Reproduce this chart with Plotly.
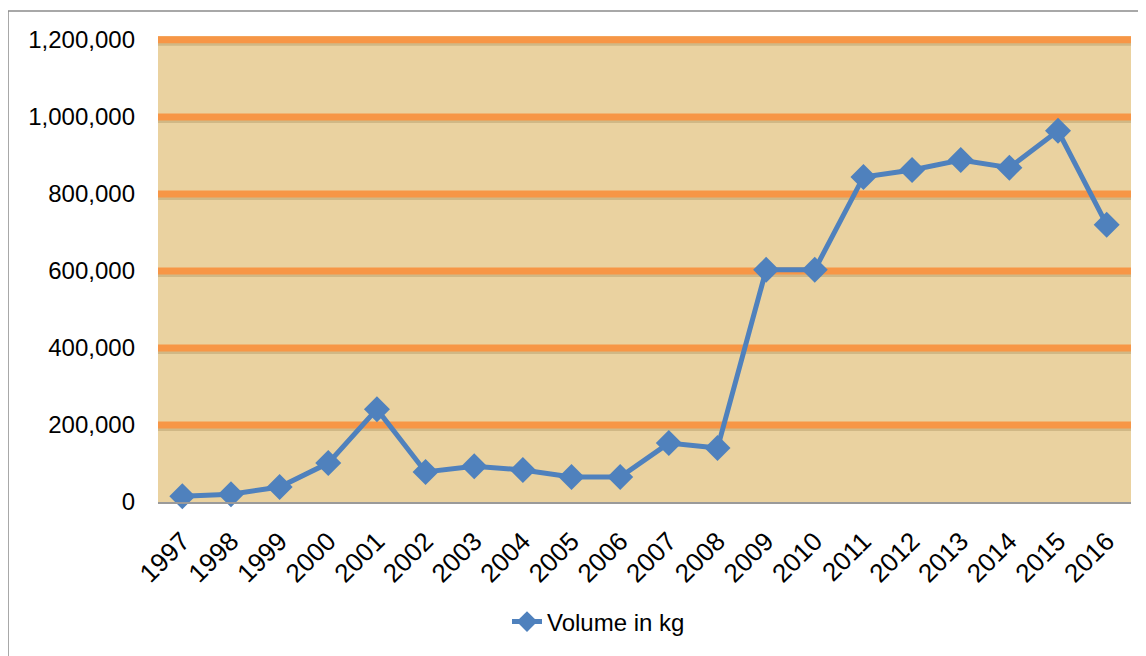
import plotly.graph_objects as go

years = ["1997", "1998", "1999", "2000", "2001", "2002", "2003", "2004", "2005", "2006",
         "2007", "2008", "2009", "2010", "2011", "2012", "2013", "2014", "2015", "2016"]
volume_kg = [15000, 20000, 39000, 101000, 241000, 78000, 93000, 83000, 65000, 65000,
             153000, 140000, 603000, 603000, 844000, 862000, 888000, 868000, 964000, 720000]
y_ticks = [0, 200000, 400000, 600000, 800000, 1000000, 1200000]
grid_values = [200000, 400000, 600000, 800000, 1000000, 1200000]

font_family = "Liberation Sans, Arial, sans-serif"

# page body has an 8px margin; figure is sized to fill the rest of the window
W, H = 1138, 648
L, R, T, B = 150, 15, 28, 154
PW = W - L - R
PH = H - T - B

fig = go.Figure()
fig.add_trace(go.Scatter(
    x=years, y=volume_kg, mode="lines+markers", name="Volume in kg",
    line=dict(color="#4F81BD", width=5),
    marker=dict(symbol="diamond", size=20, color="#4F81BD"),
    cliponaxis=False,
))

shapes = []
for g in grid_values:
    shapes.append(dict(type="line", xref="paper", yref="y", x0=0, x1=1,
                       ysizemode="pixel", yanchor=g, y0=-4, y1=-4,
                       line=dict(color="rgba(120,90,40,0.22)", width=4), layer="below"))
for g in grid_values:
    shapes.append(dict(type="line", xref="paper", yref="y", x0=0, x1=1, y0=g, y1=g,
                       line=dict(color="#F79646", width=7), layer="below"))
# outer chart border
shapes.append(dict(type="rect", xref="paper", yref="paper",
                   x0=(0 - L) / PW, x1=(W + 5 - L) / PW,
                   y0=-(B + 5) / PH, y1=(PH + T - 3) / PH,
                   line=dict(color="#8C8C8C", width=1.5), fillcolor="rgba(0,0,0,0)",
                   layer="below"))

fig.update_layout(
    width=W, height=H,
    margin=dict(l=L, r=R, t=T, b=B),
    paper_bgcolor="white",
    plot_bgcolor="#EAD2A0",
    font=dict(family=font_family, size=23, color="black"),
    shapes=shapes,
    showlegend=True,
    legend=dict(orientation="h", x=349 / PW, xanchor="left",
                y=-120 / PH, yanchor="middle",
                font=dict(size=24, color="black"), bgcolor="rgba(0,0,0,0)"),
    xaxis=dict(type="category", range=[-0.5, len(years) - 0.5], tickangle=-45,
               showgrid=False, showline=True,
               linecolor="#9A9A9A", linewidth=1.5, ticks="", zeroline=False,
               tickfont=dict(size=26), ticklabelstandoff=12),
    yaxis=dict(range=[0, 1210000], tickvals=y_ticks, tickformat=",",
               showgrid=False, zeroline=False, showline=False, ticks="",
               tickfont=dict(size=24), ticklabelstandoff=22),
)

fig.write_html("out.html")
